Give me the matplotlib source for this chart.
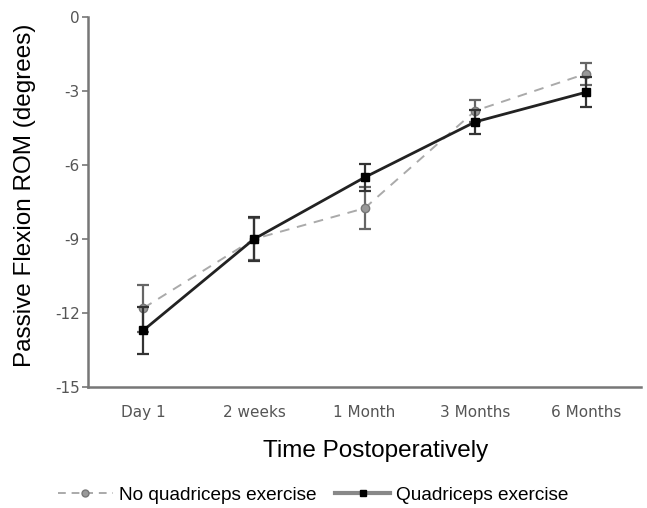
import matplotlib
matplotlib.use("Agg")
import matplotlib.pyplot as plt
from matplotlib.lines import Line2D

categories = ["Day 1", "2 weeks", "1 Month", "3 Months", "6 Months"]
no_quad = [-11.8, -9.0, -7.75, -3.8, -2.3]
no_quad_err = [0.95, 0.85, 0.85, 0.45, 0.45]
quad = [-12.7, -9.0, -6.5, -4.25, -3.05]
quad_err = [0.95, 0.88, 0.55, 0.5, 0.6]
yticks = [0, -3, -6, -9, -12, -15]

fig = plt.figure(figsize=(6.47, 5.08), dpi=100)
ax = fig.add_axes([0.136, 0.238, 0.855, 0.7285])
x = list(range(len(categories)))

ax.errorbar(x, no_quad, yerr=no_quad_err, color="#aaaaaa", linestyle=(0, (5, 4)),
            linewidth=1.4, marker="o", markersize=6, markerfacecolor="#999999",
            markeredgecolor="#777777", ecolor="#666666", elinewidth=1.6,
            capsize=4.5, capthick=1.6, zorder=2)
ax.errorbar(x, quad, yerr=quad_err, color="#222222", linestyle="-",
            linewidth=2.0, marker="s", markersize=5.5, markerfacecolor="#000000",
            markeredgecolor="#000000", ecolor="#333333", elinewidth=1.6,
            capsize=4.5, capthick=1.6, zorder=3)

ax.set_xlim(-0.5, 4.5)
ax.set_ylim(-15, 0)
ax.set_yticks(yticks)
ax.set_yticklabels([str(v) for v in yticks])
ax.set_xticks(x)
ax.set_xticklabels(categories)
for s in ["top", "right"]:
    ax.spines[s].set_visible(False)
for s in ["left", "bottom"]:
    ax.spines[s].set_color("#777777")
    ax.spines[s].set_linewidth(1.8)
ax.tick_params(axis="y", direction="out", length=4, width=1.2, color="#777777",
               labelsize=11, labelcolor="#555555", pad=2)
ax.tick_params(axis="x", length=0, labelsize=11, labelcolor="#555555", pad=13)

fig.text(25 / 647, 1 - 195 / 508, "Passive Flexion ROM (degrees)", fontsize=17.5,
         family="Liberation Sans", ha="center", va="center", rotation=90)
fig.text(376 / 647, 1 - 451 / 508, "Time Postoperatively", fontsize=17.5,
         family="Liberation Sans", ha="center", va="center")

h1 = Line2D([], [], color="#aaaaaa", linestyle=(0, (4, 3)), linewidth=1.4,
            marker="o", markersize=5, markerfacecolor="#999999", markeredgecolor="#777777")
h2 = Line2D([], [], color="#888888", linestyle="-", linewidth=3,
            marker="s", markersize=4, markerfacecolor="#000000", markeredgecolor="#000000")
fig.legend([h1, h2], ["No quadriceps exercise", "Quadriceps exercise"],
           loc="center", bbox_to_anchor=(313 / 647, 1 - 495 / 508), ncol=2,
           frameon=False, handlelength=2.9, handletextpad=0.3, columnspacing=1.0,
           prop={"family": "Liberation Sans", "size": 13.7})

fig.savefig("out.png", dpi=100)
